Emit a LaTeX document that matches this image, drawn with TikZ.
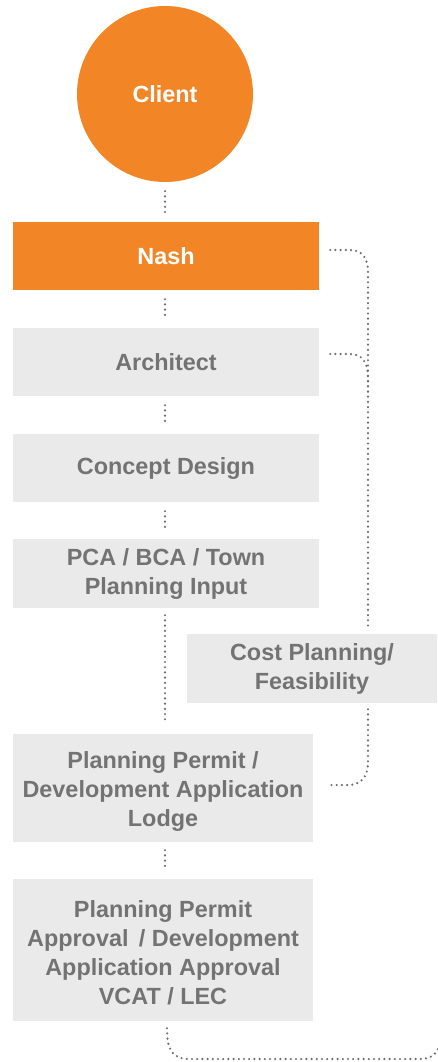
\documentclass[tikz,border=0pt]{standalone}
\usepackage{fontspec}
\setmainfont{Liberation Sans}
\usetikzlibrary{calc}
\definecolor{nashorange}{HTML}{F28627}
\definecolor{boxgray}{HTML}{EAEAEA}
\definecolor{txtgray}{HTML}{737373}
\definecolor{dotgray}{HTML}{6E6E6E}
\begin{document}
\begin{tikzpicture}[x=1pt,y=-1pt,
  lbl/.style={font=\fontsize{23.4}{29}\selectfont\bfseries, align=center, inner sep=0pt},
  orangebox/.style={lbl, fill=nashorange, text=white},
  graybox/.style={lbl, fill=boxgray, text=txtgray},
  conn/.style={draw=dotgray, line width=2.4pt, line cap=round, dash pattern=on 0pt off 5.2pt},
  vconn/.style={conn, shorten <=9pt, shorten >=9pt}
]
\useasboundingbox (0,0) rectangle (437,1062);
\node[orangebox, circle, minimum size=176pt] (client) at (165,94) {Client};
\node[orangebox, rectangle, minimum width=306pt, minimum height=68pt] (nash) at (166,256) {Nash};
\node[graybox, minimum width=306pt, minimum height=68pt] (arch) at (166,362) {Architect};
\node[graybox, minimum width=306pt, minimum height=68pt] (concept) at (166,468) {Concept Design};
\node[graybox, minimum width=306pt, minimum height=69pt] (pca) at (166,573.5) {PCA / BCA / Town\\Planning Input};
\node[graybox, minimum width=250pt, minimum height=69pt] (cost) at (312,668.5) {Cost Planning/\\Feasibility};
\node[graybox, minimum width=300pt, minimum height=108pt] (lodge) at (163,788) {\rule{0pt}{23pt}Planning Permit /\\Development Application\\Lodge};
\node[graybox, minimum width=300pt, minimum height=142pt] (approval) at (163,950) {\rule{0pt}{22pt}Planning Permit\\Approval\, / Development\\Application Approval\\VCAT / LEC};

\draw[vconn] (client.south) -- (client.south |- nash.north);
\draw[vconn] (nash.south -| client) -- (arch.north -| client);
\draw[vconn] (arch.south -| client) -- (concept.north -| client);
\draw[vconn] (concept.south -| client) -- (pca.north -| client);
\draw[conn, shorten <=7pt, shorten >=12pt] (pca.south -| client) -- (lodge.north -| client);
\draw[conn, shorten <=8pt, shorten >=8pt] (lodge.south -| client) -- (approval.north -| client);

\coordinate (railtop) at (368,272);
\draw[conn] ($(nash.east)+(11,-6)$) -- (350,250) .. controls (362,250) and (368,258) .. (railtop) -- ($(cost.north -| railtop)+(0,-6)$);
\draw[conn] ($(arch.east)+(11,-8)$) -- (350,354) .. controls (362,354) and (368,362) .. (368,378) -- (368,392);
\draw[conn] ($(cost.south -| railtop)+(0,6)$) -- (368,762) .. controls (368,778) and (360,785) .. (348,785) -- ($(lodge.east)+(17,-3)$);
\draw[conn] ($(approval.south)+(4,7)$) .. controls (167,1050) and (172,1059) .. (190,1059) -- (420,1059) .. controls (430,1059) and (435,1055) .. (438,1049);
\end{tikzpicture}
\end{document}
